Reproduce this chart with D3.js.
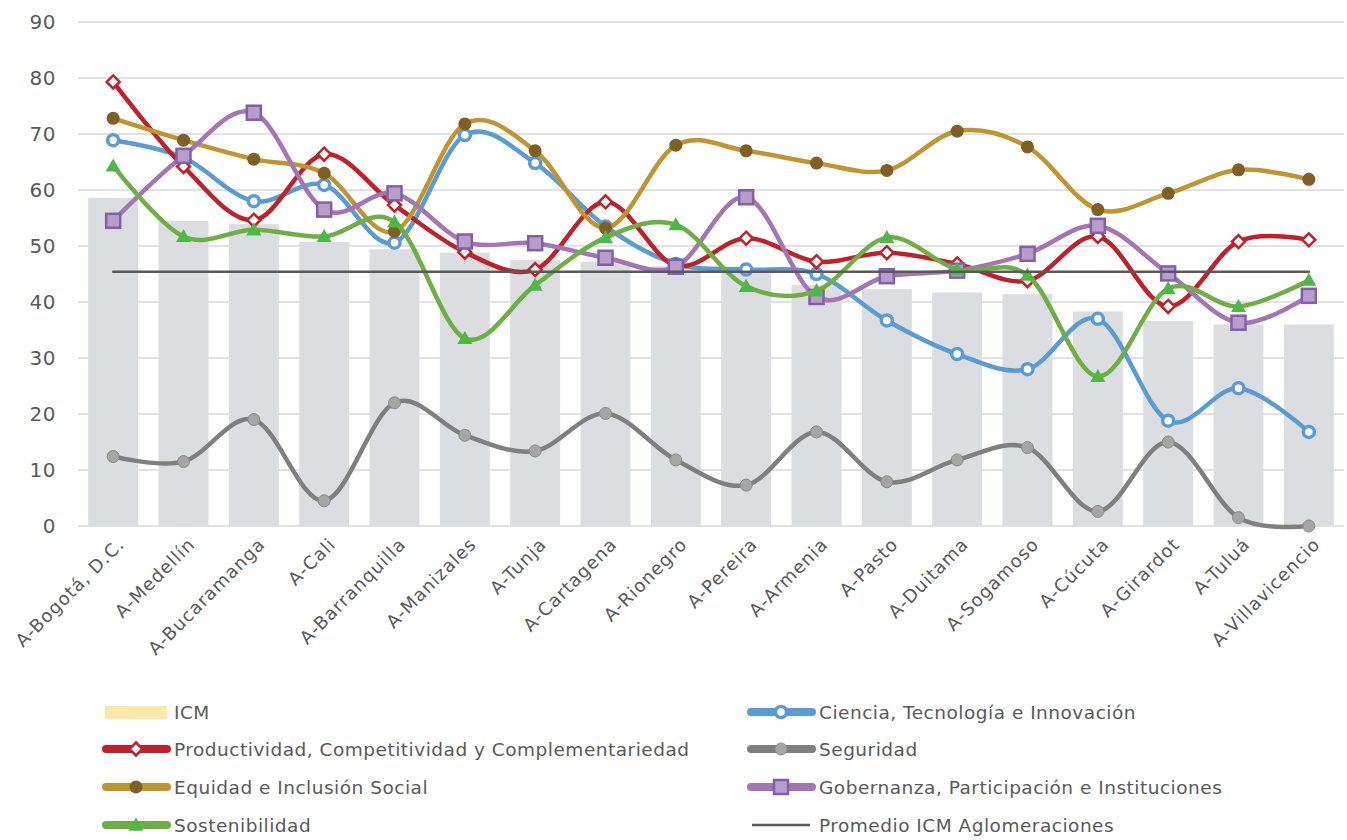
<!DOCTYPE html>
<html>
<head>
<meta charset="utf-8">
<script src="https://cdn.jsdelivr.net/npm/d3@7"></script>
<style>
  html, body { margin: 0; padding: 0; background: #fff; }
  svg { display: block; font-family: "DejaVu Sans", sans-serif; }
</style>
</head>
<body>
<svg id="chart" width="1347" height="840"></svg>
<script>
const categories = ["A-Bogotá, D.C.", "A-Medellín", "A-Bucaramanga", "A-Cali", "A-Barranquilla", "A-Manizales", "A-Tunja", "A-Cartagena", "A-Rionegro", "A-Pereira", "A-Armenia", "A-Pasto", "A-Duitama", "A-Sogamoso", "A-Cúcuta", "A-Girardot", "A-Tuluá", "A-Villavicencio"];
const icm = [58.6, 54.5, 53.9, 50.7, 49.4, 48.8, 47.5, 47.2, 46.4, 45.6, 43.0, 42.3, 41.7, 41.4, 38.3, 36.6, 36.0, 36.0];
const ciencia = [68.9, 65.8, 58.0, 60.9, 50.6, 69.8, 64.8, 53.5, 46.8, 45.8, 45.0, 36.7, 30.7, 28.0, 37.0, 18.8, 24.6, 16.8];
const productividad = [79.3, 64.2, 54.6, 66.4, 57.3, 48.9, 45.8, 57.9, 46.5, 51.4, 47.2, 48.8, 46.8, 43.8, 51.7, 39.2, 50.8, 51.1];
const seguridad = [12.4, 11.5, 19.0, 4.5, 22.0, 16.2, 13.4, 20.1, 11.8, 7.3, 16.8, 7.9, 11.8, 14.0, 2.6, 15.0, 1.5, 0.0];
const equidad = [72.8, 68.9, 65.5, 63.0, 52.6, 71.8, 67.0, 53.2, 68.0, 67.0, 64.8, 63.5, 70.5, 67.7, 56.5, 59.4, 63.6, 61.9];
const gobernanza = [54.5, 66.1, 73.8, 56.5, 59.4, 50.8, 50.5, 47.9, 46.3, 58.7, 40.9, 44.6, 45.6, 48.6, 53.6, 45.1, 36.3, 41.1];
const sostenibilidad = [64.3, 51.7, 52.9, 51.7, 54.3, 33.5, 43.0, 51.5, 53.8, 42.8, 42.0, 51.5, 45.8, 44.8, 26.7, 42.4, 39.2, 43.9];
const promedioICM = 45.4;
const yTicks = [0, 10, 20, 30, 40, 50, 60, 70, 80, 90];

const seriesNames = {
  icm: "ICM",
  ciencia: "Ciencia, Tecnología e Innovación",
  productividad: "Productividad, Competitividad y Complementariedad",
  seguridad: "Seguridad",
  equidad: "Equidad e Inclusión Social",
  gobernanza: "Gobernanza, Participación e Instituciones",
  sostenibilidad: "Sostenibilidad",
  promedio: "Promedio ICM Aglomeraciones"
};

const svg = d3.select("#chart");
const x = d3.scaleBand().domain(categories).range([78, 1344]).paddingInner(0.29).paddingOuter(0.145);
const y = d3.scaleLinear().domain([0, 90]).range([526, 22]);
const cx = c => x(c) + x.bandwidth() / 2;
const textColor = "#595959";

// gridlines
svg.append("g").selectAll("line").data(yTicks).join("line")
  .attr("x1", 78).attr("x2", 1344)
  .attr("y1", d => y(d)).attr("y2", d => y(d))
  .attr("stroke", "#d9d9d9").attr("stroke-width", 1.3);

// y axis labels
const yAxis = svg.append("g").attr("transform", "translate(62,0)")
  .call(d3.axisLeft(y).tickValues(yTicks).tickSize(0).tickPadding(6));
yAxis.select(".domain").remove();
yAxis.selectAll("text").attr("font-size", 20).attr("fill", textColor)
  .attr("font-family", "DejaVu Sans, sans-serif").attr("letter-spacing", 0.5);

// bars
svg.append("g").selectAll("rect").data(categories).join("rect")
  .attr("x", c => x(c)).attr("width", x.bandwidth())
  .attr("y", (c, i) => y(icm[i])).attr("height", (c, i) => y(0) - y(icm[i]))
  .attr("fill", "#dcdde1");

// x labels
svg.append("g").selectAll("text").data(categories).join("text")
  .attr("transform", c => `translate(${cx(c) + 8},${541}) rotate(-45)`)
  .attr("text-anchor", "end").attr("dy", "0.35em")
  .attr("font-size", 18).attr("letter-spacing", 1).attr("fill", textColor)
  .text(c => c);

const line = d3.line().x((d, i) => cx(categories[i])).y(d => y(d)).curve(d3.curveCatmullRom.alpha(0));

const lineSeries = [
  { key: "ciencia", values: ciencia, color: "#5b9bd5", marker: "circleHollow" },
  { key: "productividad", values: productividad, color: "#c0202a", marker: "diamond" },
  { key: "seguridad", values: seguridad, color: "#7f7f7f", marker: "circleGray" },
  { key: "equidad", values: equidad, color: "#c0942f", marker: "circleBrown" },
  { key: "gobernanza", values: gobernanza, color: "#a474b4", marker: "square" },
  { key: "sostenibilidad", values: sostenibilidad, color: "#6fae45", marker: "triangle" }
];

function drawMarker(g, type, px, py) {
  if (type === "circleHollow") {
    g.append("circle").attr("cx", px).attr("cy", py).attr("r", 5.5)
      .attr("fill", "#fff").attr("stroke", "#5b9bd5").attr("stroke-width", 3.5);
  } else if (type === "diamond") {
    const s = 6.5;
    g.append("path").attr("d", `M${px},${py - s}L${px + s},${py}L${px},${py + s}L${px - s},${py}Z`)
      .attr("fill", "#fff").attr("stroke", "#c0202a").attr("stroke-width", 2.5);
  } else if (type === "circleGray") {
    g.append("circle").attr("cx", px).attr("cy", py).attr("r", 6)
      .attr("fill", "#a5a5a5").attr("stroke", "#8a8a8a").attr("stroke-width", 1);
  } else if (type === "circleBrown") {
    g.append("circle").attr("cx", px).attr("cy", py).attr("r", 6.5)
      .attr("fill", "#7f5f23");
  } else if (type === "square") {
    const s = 7;
    g.append("rect").attr("x", px - s).attr("y", py - s).attr("width", 2 * s).attr("height", 2 * s)
      .attr("fill", "#b89ccb").attr("stroke", "#8060a8").attr("stroke-width", 2.5);
  } else if (type === "triangle") {
    const s = 7.5;
    g.append("path").attr("d", `M${px},${py - s}L${px + s},${py + s * 0.75}L${px - s},${py + s * 0.75}Z`)
      .attr("fill", "#4db848");
  }
}

lineSeries.forEach(s => {
  const g = svg.append("g");
  g.append("path").attr("d", line(s.values)).attr("fill", "none")
    .attr("stroke", s.color).attr("stroke-width", 4.5).attr("stroke-linecap", "round").attr("stroke-linejoin", "round");
  s.values.forEach((v, i) => drawMarker(g, s.marker, cx(categories[i]), y(v)));
});

// promedio line
svg.append("line")
  .attr("x1", cx(categories[0])).attr("x2", cx(categories[categories.length - 1]))
  .attr("y1", y(promedioICM)).attr("y2", y(promedioICM))
  .attr("stroke", "#595959").attr("stroke-width", 2.5).attr("stroke-linecap", "round");

// legend
const legendFont = 18.5;
const legendItems = [
  { key: "icm", col: 0, row: 0 },
  { key: "ciencia", col: 1, row: 0 },
  { key: "productividad", col: 0, row: 1 },
  { key: "seguridad", col: 1, row: 1 },
  { key: "equidad", col: 0, row: 2 },
  { key: "gobernanza", col: 1, row: 2 },
  { key: "sostenibilidad", col: 0, row: 3 },
  { key: "promedio", col: 1, row: 3 }
];
const colX = [103, 748];
const rowY = [712, 749, 787, 825];
const lg = svg.append("g");
legendItems.forEach(it => {
  const x0 = colX[it.col], yy = rowY[it.row];
  const g = lg.append("g");
  if (it.key === "icm") {
    g.append("rect").attr("x", x0 + 2).attr("y", yy - 6).attr("width", 62).attr("height", 13).attr("fill", "#fce8a8");
  } else if (it.key === "promedio") {
    g.append("line").attr("x1", x0 + 4).attr("x2", x0 + 62).attr("y1", yy).attr("y2", yy)
      .attr("stroke", "#595959").attr("stroke-width", 2.5);
  } else {
    const s = lineSeries.find(d => d.key === it.key);
    g.append("line").attr("x1", x0 + 3).attr("x2", x0 + 64).attr("y1", yy).attr("y2", yy)
      .attr("stroke", s.color).attr("stroke-width", 8).attr("stroke-linecap", "round");
    drawMarker(g, s.marker, x0 + 33, yy);
  }
  g.append("text").attr("x", x0 + 71).attr("y", yy).attr("dy", "0.36em")
    .attr("font-size", legendFont).attr("letter-spacing", 0.5).attr("fill", textColor).text(seriesNames[it.key]);
});
</script>
</body>
</html>
